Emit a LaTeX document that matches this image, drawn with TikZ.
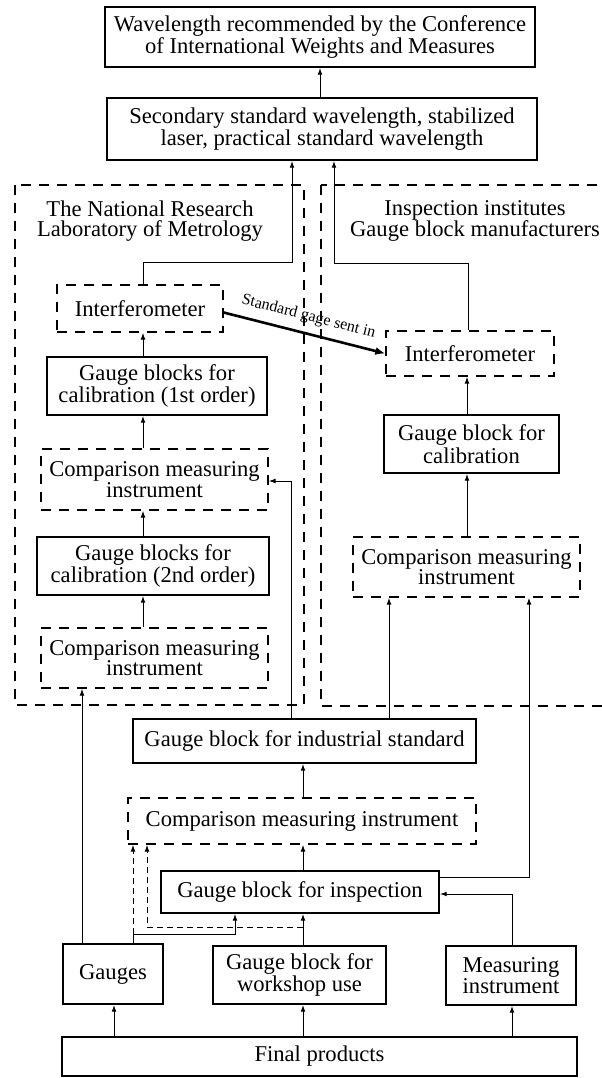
\documentclass[tikz,border=0pt]{standalone}
\usepackage{fontspec}
\setmainfont{Liberation Serif}
\usetikzlibrary{arrows.meta,calc}
\begin{document}
\begin{tikzpicture}[x=0.5pt,y=-0.5pt,
 box/.style={draw,line width=0.9pt,inner sep=0pt,align=center,font=\fontsize{11.3}{10.2}\selectfont},
 dbox/.style={box,line width=0.7pt,dash pattern=on 5pt off 4pt},
 region/.style={draw,line width=0.7pt,dash pattern=on 5pt off 4pt},
 ttl/.style={inner sep=0pt,align=center,font=\fontsize{11.3}{10.4}\selectfont},
 conn/.style={line width=0.5pt,-{Latex[length=3.4pt,width=2.4pt]}},
 dconn/.style={conn,dash pattern=on 3pt off 2pt},
 sendarr/.style={line width=1.3pt,-{Latex[length=5pt,width=4pt]}}
]
\useasboundingbox (0,0) rectangle (601,1078);

\node[box,minimum width=215pt,minimum height=30pt] (top) at (320,37) {Wavelength recommended by the Conference\\of International Weights and Measures};
\node[box,minimum width=215pt,minimum height=31pt] (sec) at (322,129) {Secondary standard wavelength, stabilized\\laser, practical standard wavelength};

\draw[region] (15,185) rectangle (304,705);
\draw[region] (321,185) rectangle (640,706);
\node[ttl] (tl) at (150,221) {The National Research\\Laboratory of Metrology};
\node[ttl] (tr) at (475,221) {Inspection institutes\\Gauge block manufacturers};

\node[dbox,minimum width=83pt,minimum height=23.5pt] (intL) at (140,308.5) {Interferometer};
\node[box,minimum width=110pt,minimum height=29pt] (g1) at (157,386) {Gauge blocks for\\calibration (1st order)};
\node[dbox,minimum width=113.5pt,minimum height=30.5pt] (cmp1) at (154.5,479.5) {Comparison measuring\\instrument};
\node[box,minimum width=116pt,minimum height=29pt] (g2) at (153,566) {Gauge blocks for\\calibration (2nd order)};
\node[dbox,minimum width=113.5pt,minimum height=30pt] (cmp2) at (154.5,658) {Comparison measuring\\instrument};

\node[dbox,minimum width=84pt,minimum height=22.5pt] (intR) at (470,353.5) {Interferometer};
\node[box,minimum width=87.5pt,minimum height=29pt] (gcal) at (471.5,444) {Gauge block for\\calibration};
\node[dbox,minimum width=113.5pt,minimum height=30pt] (cmpR) at (466.5,567) {Comparison measuring\\instrument};

\node[box,minimum width=171.5pt,minimum height=22pt] (ind) at (304.5,741) {Gauge block for industrial standard};
\node[dbox,minimum width=174pt,minimum height=23pt] (cmpB) at (302,821) {Comparison measuring instrument};
\node[box,minimum width=139pt,minimum height=21pt] (insp) at (300,892) {Gauge block for inspection};
\node[box,minimum width=50pt,minimum height=30pt] (gauges) at (113,974) {Gauges};
\node[box,minimum width=86.5pt,minimum height=29pt] (work) at (299.5,975) {Gauge block for\\workshop use};
\node[box,minimum width=65pt,minimum height=29.5pt] (meas) at (511,975.5) {Measuring\\instrument};
\node[box,minimum width=257.5pt,minimum height=19.5pt] (final) at (319.5,1056.5) {Final products};

% helper coordinates
\coordinate (x320) at (320,0);
\coordinate (xL) at (143,0);
\coordinate (xR) at (467,0);
\coordinate (xM) at (303,0);
\coordinate (xG) at (82,0);
\coordinate (xJ) at (389,0);
\coordinate (xF1) at (114,0);
\coordinate (xF3) at (512,0);
\coordinate (kL1) at (143,262);
\coordinate (kL2) at (292,262);
\coordinate (kR1a) at (468,263);
\coordinate (kR2a) at (334,263);
\coordinate (kI) at (291,481);
\coordinate (kO) at (529,877);
\coordinate (kQ) at (512,894);
\coordinate (kR1) at (133,934);
\coordinate (kR2) at (235,934);
\coordinate (kT1) at (303,927);
\coordinate (kT2) at (147,927);

\draw[conn] (sec.north -| x320) -- (top.south -| x320);
\draw[conn] (intL.north -| kL1) -- (kL1) -- (kL2) -- (sec.south -| kL2);
\draw[conn] (intR.north -| kR1a) -- (kR1a) -- (kR2a) -- (sec.south -| kR2a);

\draw[conn] (g1.north -| xL) -- (intL.south -| xL);
\draw[conn] (cmp1.north -| xL) -- (g1.south -| xL);
\draw[conn] (g2.north -| xL) -- (cmp1.south -| xL);
\draw[conn] (cmp2.north -| xL) -- (g2.south -| xL);
\draw[conn] (gauges.north -| xG) -- (cmp2.south -| xG);

\draw[conn] (gcal.north -| xR) -- (intR.south -| xR);
\draw[conn] (cmpR.north -| xR) -- (gcal.south -| xR);

\draw[conn] (ind.north -| kI) -- (kI) -- (cmp1.east |- kI);
\draw[conn] (ind.north -| xJ) -- (cmpR.south -| xJ);

\draw[conn] (cmpB.north -| xM) -- (ind.south -| xM);
\draw[conn] (insp.north -| xM) -- (cmpB.south -| xM);
\draw[conn] (work.north -| xM) -- (insp.south -| xM);
\draw[conn] (insp.east |- kO) -- (kO) -- (cmpR.south -| kO);
\draw[conn] (meas.north -| kQ) -- (kQ) -- (insp.east |- kQ);
\draw[conn] (gauges.north -| kR1) -- (kR1) -- (kR2) -- (insp.south -| kR2);
\draw[dconn] (kR1) -- (cmpB.south -| kR1);
\draw[dconn] (kT1) -- (kT2) -- (cmpB.south -| kT2);

\draw[conn] (final.north -| xF1) -- (gauges.south -| xF1);
\draw[conn] (final.north -| xM) -- (work.south -| xM);
\draw[conn] (final.north -| xF3) -- (meas.south -| xF3);

\draw[sendarr] ([yshift=-2pt]intL.east) -- node[midway,sloped,above,inner sep=4pt,font=\fontsize{8}{8}\selectfont] {Standard gage sent in} (intR.west);
\end{tikzpicture}
\end{document}
